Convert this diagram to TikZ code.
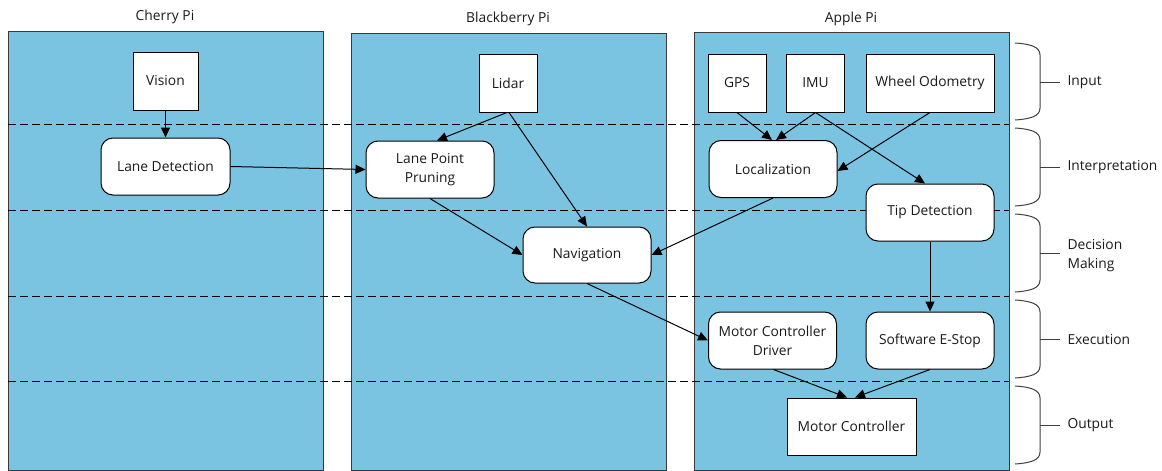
\documentclass[tikz,border=0pt]{standalone}
\usepackage{fontspec}
\setmainfont{Open Sans}
\usetikzlibrary{arrows.meta}
\definecolor{panelblue}{HTML}{7AC4E2}
\definecolor{panelline}{HTML}{3A3A3A}
\definecolor{inkgray}{HTML}{1A1A1A}
\definecolor{bracegray}{HTML}{404040}
\begin{document}
\begin{tikzpicture}[x=1pt,y=-1pt,
  every node/.style={font=\fontsize{13.8}{19}\selectfont, text=inkgray},
  panel/.style={fill=panelblue, draw=panelline, line width=1pt},
  sq/.style={draw=black, fill=white, line width=1pt, inner sep=0pt,
    minimum width=58pt, minimum height=58pt},
  wbox/.style={draw=black, fill=white, line width=1pt, inner sep=0pt,
    minimum width=128pt, minimum height=57pt},
  rbox/.style={draw=black, fill=white, line width=1pt, inner sep=0pt,
    rounded corners=12pt, align=center, minimum width=128pt, minimum height=57pt},
  link/.style={-{Triangle[length=10pt,width=9pt]}, line width=1pt, draw=black},
  sep/.style={dash pattern=on 7.5pt off 4.5pt, line width=1pt, draw=black},
  brace/.style={draw=bracegray, line width=1pt}]
\useasboundingbox (0,0) rectangle (1162,471);

% three processor columns
\draw[panel] (8,31) rectangle (323,470);
\draw[panel] (351,33) rectangle (666,470);
\draw[panel] (694,32) rectangle (1009,470);
\node (cherry) at (165,17) {Cherry Pi};
\node (blackberry) at (508,19) {Blackberry Pi};
\node (apple) at (851,19) {Apple Pi};

% stage separators
\foreach \y in {124,210,296,381}
  \draw[sep] (8,\y) -- (1009,\y);

% processing blocks
\node[sq, minimum width=65pt] (vision) at (165.5,81) {Vision};
\node[rbox, minimum width=129pt] (lanedet) at (165.5,166.5) {Lane Detection};
\node[sq] (lidar) at (508,83) {Lidar};
\node[rbox] (lpp) at (430,169.5) {Lane Point\\Pruning};
\node[rbox, minimum height=56pt] (nav) at (587,255) {Navigation};
\node[sq] (gps) at (737,83) {GPS};
\node[sq] (imu) at (815.5,83) {IMU};
\node[wbox, minimum height=58pt] (wheel) at (930,83) {Wheel Odometry};
\node[rbox] (loc) at (773,169) {Localization};
\node[rbox] (tip) at (930,212.5) {Tip Detection};
\node[rbox] (mcd) at (772.5,340.5) {Motor Controller\\Driver};
\node[rbox] (estop) at (930,340.5) {Software E-Stop};
\node[wbox, minimum width=129pt] (mc) at (851.5,426.5) {Motor Controller};

% data flow
\draw[link] (vision.south) -- (lanedet.north);
\draw[link] (lanedet.east) -- (lpp.west);
\draw[link] ([xshift=-1pt]lidar.south) -- ([xshift=7pt]lpp.north);
\draw[link] ([xshift=1pt]lidar.south) -- (nav.north);
\draw[link] (lpp.south) -- (nav.west);
\draw[link] (loc.south) -- (nav.east);
\draw[link] (gps.south) -- ([xshift=-1pt]loc.north);
\draw[link] (imu.south) -- ([xshift=3pt]loc.north);
\draw[link] (imu.south) -- ([xshift=-5pt]tip.north);
\draw[link] (wheel.south) -- ([yshift=-2pt]loc.east);
\draw[link] (tip.south) -- (estop.north);
\draw[link] (nav.south) -- (mcd.west);
\draw[link] ([xshift=1pt]mcd.south) -- ([xshift=-4.5pt]mc.north);
\draw[link] (estop.south) -- ([xshift=3.5pt]mc.north);

% stage braces: top, bottom, tick height, label, label offset, name
\foreach \t/\b/\c/\lab/\dy/\nm in {43/120/82/Input/0/in, 128/206/167/Interpretation/0/interp,
    214/292/253/{Decision\\Making}/3/dec, 300/378/339/Execution/0/exec, 386/464/425/Output/0/out} {
  \draw[brace] (1015,\t) .. controls (1031,\t+1) and (1040,\t+4) .. (1040,\t+12)
    -- (1040,\b-12) .. controls (1040,\b-4) and (1031,\b-1) .. (1015,\b);
  \draw[brace] (1040,\c) -- (1060,\c);
  \node[anchor=west, align=left] (stage-\nm) at (1064,\c+\dy) {\lab};
}
\end{tikzpicture}
\end{document}
